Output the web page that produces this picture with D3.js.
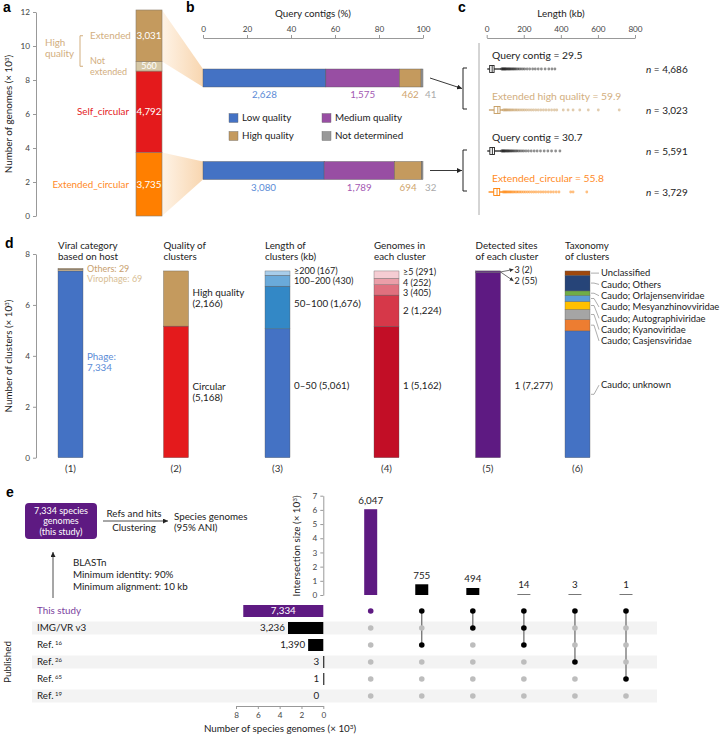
<!DOCTYPE html>
<html>
<head>
<meta charset="utf-8">
<script src="https://cdn.jsdelivr.net/npm/d3@7"></script>
<style>
body { margin: 0; background: #fff; }
svg { font-family: Lato, "Open Sans", sans-serif; }
</style>
</head>
<body>
<svg id="fig" width="723" height="735"></svg>
<script>
// ---- data ----
// a: genome categories, bottom to top
const aCats = ["Extended_circular", "Self_circular", "Not extended", "Extended"];
const aValues = [3735, 4792, 560, 3031];
const aTicks = [0, 2, 4, 6, 8, 10, 12];

// b: quality of query contigs
const bCats = ["Low quality", "Medium quality", "High quality", "Not determined"];
const bRow1 = [2628, 1575, 462, 41];
const bRow2 = [3080, 1789, 694, 32];
const bTicks = [0, 20, 40, 60, 80, 100];

// c: length boxplots (kb)
const cNames = ["Query contig", "Extended high quality", "Query contig", "Extended_circular"];
const cMedian = [29.5, 59.9, 30.7, 55.8];
const cQ1 = [16, 40, 17, 38];
const cQ3 = [40, 72, 42, 70];
const cLo = [3, 12, 3, 10];
const cHi = [78, 88, 78, 86];
const cN = ["4,686", "3,023", "5,591", "3,729"];
const cOut1 = [80, 83, 86, 89, 92, 95, 98, 101, 104, 108, 112, 116, 120, 124, 128, 133, 138, 143, 148, 154, 160, 168, 176, 185, 195, 205, 218, 232, 248, 262, 278, 295, 315, 335, 352, 368];
const cOut2 = [90, 95, 100, 105, 110, 116, 122, 128, 135, 142, 150, 158, 166, 175, 185, 195, 205, 216, 228, 240, 252, 265, 278, 292, 306, 320, 335, 350, 365, 378, 413, 439, 466, 502, 548, 602, 715];
const cOut3 = [80, 83, 86, 89, 92, 95, 98, 102, 106, 110, 114, 118, 122, 127, 132, 137, 143, 149, 156, 163, 171, 180, 190, 200, 212, 225, 240, 256, 272, 290, 310, 330, 350, 372, 395];
const cOut4 = [88, 93, 98, 103, 108, 114, 120, 126, 132, 139, 146, 154, 162, 170, 179, 188, 198, 208, 219, 230, 242, 254, 266, 279, 292, 305, 318, 332, 346, 360, 375, 390, 453, 466, 540];
const cTicks = [0, 200, 400, 600, 800];

// d: cluster composition, bottom to top
const dGroups = ["(1)", "(2)", "(3)", "(4)", "(5)", "(6)"];
const dTitles = [["Viral category", "based on host"], ["Quality of", "clusters"], ["Length of", "clusters (kb)"],
                 ["Genomes in", "each cluster"], ["Detected sites", "of each cluster"], ["Taxonomy", "of clusters"]];
const d1Cats = ["Phage", "Virophage", "Others"];
const d1Values = [7334, 69, 29];
const d2Cats = ["Circular", "High quality"];
const d2Values = [5168, 2166];
const d3Cats = ["0–50", "50–100", "100–200", "≥200"];
const d3Values = [5061, 1676, 430, 167];
const d4Cats = ["1", "2", "3", "4", "≥5"];
const d4Values = [5162, 1224, 405, 252, 291];
const d5Cats = ["1", "2", "3"];
const d5Values = [7277, 55, 2];
const d6Cats = ["Caudo; unknown", "Caudo; Casjensviridae", "Caudo; Kyanoviridae", "Caudo; Autographiviridae",
                "Caudo; Mesyanzhinovviridae", "Caudo; Orlajensenviridae", "Caudo; Others", "Unclassified"];
const d6Values = [4980, 450, 390, 315, 235, 180, 615, 169];
const dTicks = [0, 2, 4, 6, 8];

// e: species genome overlap (UpSet)
const eSets = ["This study", "IMG/VR v3", "Ref.", "Ref.", "Ref.", "Ref."];
const eSetSup = ["", "", "16", "26", "65", "19"];
const eSetSizes = [7334, 3236, 1390, 3, 1, 0];
const eInterSizes = [6047, 755, 494, 14, 3, 1];
const eMembers = [[0], [0, 2], [0, 1], [0, 1, 2], [0, 3], [0, 4]];
const eInterTicks = [0, 1, 2, 3, 4, 5, 6, 7];
const eSetTicks = [8, 6, 4, 2, 0];

// ---- helpers ----
const FS = 9.8;
const svg = d3.select("#fig");
const fmt = d3.format(",");
const defs = svg.append("defs");
function marker(id, color, s) {
  defs.append("marker").attr("id", id).attr("markerUnits", "userSpaceOnUse")
    .attr("markerWidth", s).attr("markerHeight", s).attr("refX", s).attr("refY", s / 2)
    .attr("orient", "auto")
    .append("path").attr("d", `M0,0 L${s},${s / 2} L0,${s} z`).attr("fill", color);
}
marker("arr", "#222", 5);
marker("arrS", "#333", 4);

function txt(x, y, s, o = {}) {
  return svg.append("text").attr("x", x).attr("y", y).attr("dy", "0.35em")
    .attr("font-size", o.size || FS).attr("fill", o.color || "#222")
    .attr("text-anchor", o.anchor || "start").attr("font-weight", o.weight || null)
    .text(s);
}
function lines(x, y, arr, o = {}) {
  const lh = o.lh || 11;
  arr.forEach((s, i) => txt(x, y + (i - (arr.length - 1) / 2) * lh, s, o));
}
function supLabel(x, y, main, sup, o = {}) {
  const fs = o.size || FS;
  const t = svg.append("text").attr("transform", `translate(${x},${y}) rotate(${o.rot || 0})`)
    .attr("text-anchor", o.anchor || "middle").attr("dy", "0.35em")
    .attr("font-size", fs).attr("fill", o.color || "#222");
  t.append("tspan").text(main);
  t.append("tspan").attr("baseline-shift", "super").attr("font-size", fs * 0.65).text(sup);
  if (o.after) t.append("tspan").text(o.after);
  return t;
}
function styleAxis(g) {
  g.selectAll(".domain").attr("stroke", "#999");
  g.selectAll(".tick line").attr("stroke", "#999");
  g.selectAll(".tick text").attr("fill", "#444").attr("font-size", 8.2).attr("font-family", "Lato, sans-serif");
}
function stack(vals) {
  let c = 0;
  return vals.map(v => { const s = { v0: c, v1: c + v }; c += v; return s; });
}
// place labels top-down so they don't collide
function spread(ys, gap) {
  let prev = -Infinity;
  return ys.map(y => { const v = Math.max(y, prev + gap); prev = v; return v; });
}
function letter(x, y, s) { txt(x, y, s, { size: 14, weight: "bold", color: "#000" }).attr("font-family", "Liberation Sans, Arial, sans-serif"); }

// ---- panel a ----
letter(3, 7, "a");
const yA = d3.scaleLinear().domain([0, 12000]).range([216, 12]);
const aColors = ["#FF7F00", "#E41A1C", "#D6C8A6", "#C49A5E"];
const aTextCol = ["#FF8A1F", "#E41A1C", "#D2AE7E", "#D2AE7E"];
const aSeg = stack(aValues);
const aX0 = 136, aX1 = 162;
const aMid = i => yA((aSeg[i].v0 + aSeg[i].v1) / 2);

const grad = defs.append("linearGradient").attr("id", "wedge").attr("x1", "0").attr("x2", "1");
grad.append("stop").attr("offset", "0").attr("stop-color", "#FEF3E6");
grad.append("stop").attr("offset", "1").attr("stop-color", "#F8D6B0");

svg.append("g").attr("transform", "translate(36,0)")
  .call(d3.axisLeft(yA).tickValues(aTicks.map(t => t * 1000)).tickFormat(d => d / 1000).tickSize(3).tickSizeOuter(0))
  .call(styleAxis);
supLabel(9, 114, "Number of genomes (× 10", "3", { rot: -90, after: ")" });

svg.append("g").selectAll("rect").data(aSeg).join("rect")
  .attr("x", aX0).attr("width", aX1 - aX0)
  .attr("y", d => yA(d.v1)).attr("height", d => yA(d.v0) - yA(d.v1))
  .attr("fill", (d, i) => aColors[i]).attr("stroke", "#8a7d6a").attr("stroke-width", 0.6);
aSeg.forEach((d, i) => txt((aX0 + aX1) / 2, aMid(i), fmt(aValues[i]), { anchor: "middle", color: "#fff", size: i === 2 ? 9 : FS }));
txt(129, aMid(0), aCats[0], { anchor: "end", color: aTextCol[0] });
txt(129, aMid(1), aCats[1], { anchor: "end", color: aTextCol[1] });
lines(90, aMid(2), ["Not", "extended"], { color: aTextCol[2], lh: 10.5, size: 9 });
txt(90, aMid(3), aCats[3], { color: aTextCol[3] });
lines(45, 48, ["High", "quality"], { color: aTextCol[3], lh: 11 });
svg.append("path").attr("d", `M83,${aMid(3)} H80 V${aMid(2)} H83`)
  .attr("fill", "none").attr("stroke", "#D2AE7E").attr("stroke-width", 1);

// ---- panel b ----
letter(186, 7, "b");
const xB = d3.scaleLinear().domain([0, 100]).range([203, 423]);
const yB = d3.scalePoint().domain([0, 1]).range([78, 170.5]);
const bColors = ["#4472C4", "#984EA3", "#C49A5E", "#999999"];
const bTextCol = ["#5B8BD6", "#A358B3", "#CFA56E", "#AAAAAA"];
const bh = 18;

const topSeg = aSeg[3], botSeg = aSeg[0];
svg.insert("path", ":first-child").attr("fill", "url(#wedge)")
  .attr("d", `M${aX1},${yA(topSeg.v1)} L${xB(0)},${yB(0) - bh / 2} L${xB(0)},${yB(0) + bh / 2} L${aX1},${yA(topSeg.v0)} Z`);
svg.insert("path", ":first-child").attr("fill", "url(#wedge)")
  .attr("d", `M${aX1},${yA(botSeg.v1)} L${xB(0)},${yB(1) - bh / 2} L${xB(0)},${yB(1) + bh / 2} L${aX1},${yA(botSeg.v0)} Z`);

txt(313, 14, "Query contigs (%)", { anchor: "middle" });
svg.append("g").attr("transform", "translate(0,38)")
  .call(d3.axisTop(xB).tickValues(bTicks).tickSize(3).tickSizeOuter(0).tickPadding(3))
  .call(styleAxis);

[bRow1, bRow2].forEach((row, r) => {
  const tot = d3.sum(row);
  const seg = stack(row.map(v => v / tot * 100));
  svg.append("g").selectAll("rect").data(seg).join("rect")
    .attr("x", d => xB(d.v0)).attr("width", d => xB(d.v1) - xB(d.v0))
    .attr("y", yB(r) - bh / 2).attr("height", bh)
    .attr("fill", (d, i) => bColors[i]).attr("stroke", "#555").attr("stroke-width", 0.4);
  seg.forEach((d, i) => {
    if (i === 3) txt(xB(100) + 2, yB(r) + 17, fmt(row[i]), { color: bTextCol[i] });
    else txt(xB((d.v0 + d.v1) / 2), yB(r) + 17, fmt(row[i]), { anchor: "middle", color: bTextCol[i] });
  });
});
const legPos = [[229, 118], [322, 118], [229, 136], [322, 136]];
bCats.forEach((c, i) => {
  svg.append("rect").attr("x", legPos[i][0]).attr("y", legPos[i][1] - 4.5).attr("width", 9).attr("height", 9)
    .attr("fill", bColors[i]).attr("stroke", "#666").attr("stroke-width", 0.4);
  txt(legPos[i][0] + 13, legPos[i][1], c);
});

// ---- panel c ----
letter(458, 7, "c");
const xC = d3.scaleLinear().domain([0, 800]).range([486.7, 635]);
const yC = d3.scalePoint().domain([0, 1, 2, 3]).range([69, 192]);
const cCol = ["#222", "#C49A5E", "#222", "#FF7F00"];
const cTxt = ["#222", "#D2AE7E", "#222", "#FF8A1F"];
txt(561, 14, "Length (kb)", { anchor: "middle" });
svg.append("g").attr("transform", "translate(0,38)")
  .call(d3.axisTop(xC).tickValues(cTicks).tickSize(3).tickSizeOuter(0).tickPadding(3))
  .call(styleAxis);
svg.append("line").attr("x1", 479).attr("x2", 479).attr("y1", 43).attr("y2", 215).attr("stroke", "#aaa").attr("stroke-width", 1);
const cOuts = [cOut1, cOut2, cOut3, cOut4];
cNames.forEach((nm, i) => {
  const y = yC(i);
  txt(492, y - 14, `${nm} = ${cMedian[i]}`, { color: cTxt[i], size: 10.3 });
  const g = svg.append("g");
  g.selectAll("circle").data(cOuts[i]).join("circle")
    .attr("cx", d => xC(d)).attr("cy", y).attr("r", 1.4)
    .attr("fill", cCol[i]).attr("opacity", 0.5);
  g.append("line").attr("x1", xC(cLo[i])).attr("x2", xC(cHi[i])).attr("y1", y).attr("y2", y)
    .attr("stroke", cCol[i]).attr("stroke-width", 1.3);
  g.append("rect").attr("x", xC(cQ1[i])).attr("width", xC(cQ3[i]) - xC(cQ1[i]))
    .attr("y", y - 3.5).attr("height", 7).attr("fill", "#fff").attr("stroke", cCol[i]).attr("stroke-width", 0.9);
  g.append("line").attr("x1", xC(cMedian[i])).attr("x2", xC(cMedian[i])).attr("y1", y - 3.5).attr("y2", y + 3.5)
    .attr("stroke", cCol[i]).attr("stroke-width", 0.9);
  const t = svg.append("text").attr("x", 646).attr("y", y).attr("dy", "0.35em").attr("font-size", 10).attr("fill", "#222");
  t.append("tspan").attr("font-style", "italic").text("n");
  t.append("tspan").text(" = " + cN[i]);
});
[[0, 1], [2, 3]].forEach((pair, k) => {
  const yt = yC(pair[0]) - 1, yb = yC(pair[1]) - 1;
  svg.append("path").attr("d", `M467,${yt} H463 V${yb} H467`).attr("fill", "none").attr("stroke", "#222").attr("stroke-width", 1);
  svg.append("line").attr("x1", 430).attr("y1", yB(k)).attr("x2", 462).attr("y2", (yt + yb) / 2)
    .attr("stroke", "#222").attr("stroke-width", 0.9).attr("marker-end", "url(#arr)");
});

// ---- panel d ----
letter(5, 243, "d");
const yD = d3.scaleLinear().domain([0, 8000]).range([457.7, 254]);
// columns are not evenly spaced in the original
const xD = d3.scaleOrdinal().domain(dGroups).range([70.5, 176, 277.5, 386.5, 488, 577.5]);
const bw = 25;
svg.append("g").attr("transform", "translate(36,0)")
  .call(d3.axisLeft(yD).tickValues(dTicks.map(t => t * 1000)).tickFormat(d => d / 1000).tickSize(3).tickSizeOuter(0))
  .call(styleAxis);
supLabel(9, 356, "Number of clusters (× 10", "3", { rot: -90, after: ")" });

const dVals = [d1Values, d2Values, d3Values, d4Values, d5Values, d6Values];
const dCols = [
  ["#4472C4", "#D8BE94", "#B8905A"],
  ["#E41A1C", "#C49A5E"],
  ["#4472C4", "#3388C6", "#6AAADA", "#A8CDEA"],
  ["#C20E26", "#D63849", "#E0707E", "#EB9EA8", "#F5CDD3"],
  ["#5E1A82", "#6E3391", "#8A5AA6"],
  ["#4472C4", "#ED7D31", "#A5A5A5", "#FFC000", "#5B9BD5", "#70AD47", "#264478", "#9E480E"]
];
dGroups.forEach((gname, gi) => {
  const x0 = xD(gname) - bw / 2;
  lines(x0, 251, dTitles[gi], { lh: 10.5 });
  const seg = stack(dVals[gi]);
  svg.append("g").selectAll("rect").data(seg).join("rect")
    .attr("x", x0).attr("width", bw)
    .attr("y", d => yD(d.v1)).attr("height", d => yD(d.v0) - yD(d.v1))
    .attr("fill", (d, i) => dCols[gi][i]).attr("stroke", "#555").attr("stroke-width", 0.35);
  txt(xD(gname), 469, gname, { anchor: "middle", color: "#333" });
});
const lx = g => xD(g) + bw / 2 + 4;
const mids = vals => stack(vals).map(s => yD((s.v0 + s.v1) / 2));
const baseY = yD(2850);
const SM = 9;
// (1)
lines(lx("(1)"), yD(3750), ["Phage:", fmt(d1Values[0])], { color: "#5B8BD6", lh: 10.5 });
txt(lx("(1)"), yD(d3.sum(d1Values)) + 0.5, `${d1Cats[2]}: ${d1Values[2]}`, { color: "#C8A06E", size: SM });
txt(lx("(1)"), yD(d3.sum(d1Values)) + 10.5, `${d1Cats[1]}: ${d1Values[1]}`, { color: "#D8BE94", size: SM });
// (2)
mids(d2Values).forEach((y, i) => lines(lx("(2)"), y, [d2Cats[i], `(${fmt(d2Values[i])})`], { lh: 11 }));
// (3) and (4): bottom label low in the bar, upper labels spread top-down
[["(3)", d3Cats, d3Values], ["(4)", d4Cats, d4Values]].forEach(([g, cats, vals]) => {
  txt(lx(g), baseY, `${cats[0]} (${fmt(vals[0])})`);
  const m = mids(vals);
  const idx = d3.range(vals.length - 1, 0, -1);
  const ys = spread(idx.map(i => m[i] - (i === vals.length - 1 ? 2.5 : 0)), 10.2);
  idx.forEach((i, k) => txt(lx(g), ys[k] - (i === 1 && g === "(3)" ? 4 : 0), `${cats[i]} (${fmt(vals[i])})`,
    { size: i === 1 ? FS : SM }));
});
// (5)
txt(lx("(5)") + 10, baseY, `${d5Cats[0]} (${fmt(d5Values[0])})`);
const top5 = yD(d3.sum(d5Values));
[[2, -1.5], [1, 10]].forEach(([i, dy]) => {
  svg.append("line").attr("x1", xD("(5)") + bw / 2).attr("y1", top5 + 1).attr("x2", lx("(5)") + 9).attr("y2", top5 + dy)
    .attr("stroke", "#333").attr("stroke-width", 0.7).attr("marker-end", "url(#arrS)");
  txt(lx("(5)") + 10, top5 + dy, `${d5Cats[i]} (${fmt(d5Values[i])})`, { size: SM });
});
// (6) taxonomy with leader lines
const m6 = mids(d6Values);
const idx6 = d3.range(d6Cats.length - 1, 0, -1);
const y6 = spread(idx6.map(i => m6[i]), 11.3);
const xb6 = xD("(6)") + bw / 2;
idx6.map((i, k) => [i, y6[k]]).concat([[0, baseY]]).forEach(([i, y]) => {
  svg.append("path").attr("d", `M${xb6 + 1},${m6[i]} L${xb6 + 4},${m6[i]} L${xb6 + 9},${y}`)
    .attr("fill", "none").attr("stroke", "#777").attr("stroke-width", 0.6);
  txt(xb6 + 11, y, d6Cats[i], { size: 9.4 });
});

// ---- panel e ----
letter(6, 492, "e");
svg.append("rect").attr("x", 25).attr("y", 503).attr("width", 72).attr("height", 36).attr("rx", 4).attr("fill", "#5E1A82");
lines(61, 521, ["7,334 species", "genomes", "(this study)"], { anchor: "middle", color: "#fff", lh: 10.6, size: 9 });
svg.append("line").attr("x1", 103).attr("x2", 168).attr("y1", 521).attr("y2", 521)
  .attr("stroke", "#222").attr("stroke-width", 0.8).attr("marker-end", "url(#arr)");
txt(134, 514, "Refs and hits", { anchor: "middle" });
txt(134, 528, "Clustering", { anchor: "middle" });
lines(174, 522, ["Species genomes", "(95% ANI)"], { lh: 11 });
svg.append("line").attr("x1", 53).attr("x2", 53).attr("y1", 598).attr("y2", 552)
  .attr("stroke", "#222").attr("stroke-width", 0.8).attr("marker-end", "url(#arr)");
lines(73, 575, ["BLASTn", "Minimum identity: 90%", "Minimum alignment: 10 kb"], { lh: 12 });

const yR = d3.scalePoint().domain(d3.range(eSets.length)).range([611, 696]);
const xI = d3.scalePoint().domain(d3.range(eInterSizes.length)).range([370.7, 626]);
const yI = d3.scaleLinear().domain([0, 7000]).range([595, 495.7]);
const xS = d3.scaleLinear().domain([0, 8000]).range([323.3, 236]);

svg.append("g").selectAll("rect").data(d3.range(eSets.length).filter(i => i % 2 === 1)).join("rect")
  .attr("x", 32).attr("width", 625).attr("y", d => yR(d) - 6.5).attr("height", 13).attr("fill", "#F3F3F3");

svg.append("g").attr("transform", "translate(323.3,0)")
  .call(d3.axisLeft(yI).tickValues(eInterTicks.map(t => t * 1000)).tickFormat(d => d / 1000).tickSize(3).tickSizeOuter(0))
  .call(styleAxis);
supLabel(297, 546, "Intersection size (× 10", "3", { rot: -90, after: ")" });
eInterSizes.forEach((v, i) => {
  const h = Math.max(yI(0) - yI(v), 1);
  svg.append("rect").attr("x", xI(i) - 6.5).attr("width", 13).attr("y", yI(0) - h).attr("height", h)
    .attr("fill", i === 0 ? "#5E1A82" : (v < 100 ? "#777" : "#000"));
  txt(xI(i), yI(0) - h - 9, fmt(v), { anchor: "middle" });
});

svg.append("g").attr("transform", "translate(0,706)")
  .call(d3.axisBottom(xS).tickValues(eSetTicks.map(t => t * 1000)).tickFormat(d => d / 1000).tickSize(3).tickSizeOuter(0))
  .call(styleAxis);
supLabel(280, 729, "Number of species genomes (× 10", "3", { after: ")" });
eSets.forEach((s, i) => {
  const y = yR(i);
  const w = xS(0) - xS(eSetSizes[i]);
  svg.append("rect").attr("x", xS(eSetSizes[i])).attr("width", Math.max(w, eSetSizes[i] > 0 ? 1 : 0))
    .attr("y", y - 6).attr("height", 12).attr("fill", i === 0 ? "#5E1A82" : "#000");
  if (i === 0) txt(xS(eSetSizes[i] / 2), y, fmt(eSetSizes[i]), { anchor: "middle", color: "#fff" });
  else txt(Math.min(xS(eSetSizes[i]), xS(0) - 1) - 3, y, fmt(eSetSizes[i]), { anchor: "end" });
  const t = svg.append("text").attr("x", 37).attr("y", y).attr("dy", "0.35em").attr("font-size", FS)
    .attr("fill", i === 0 ? "#7B3F9E" : "#222");
  t.append("tspan").text(s);
  if (eSetSup[i]) t.append("tspan").attr("baseline-shift", "super").attr("font-size", 6).text(" " + eSetSup[i]);
});
svg.append("text").attr("transform", "translate(8,662) rotate(-90)").attr("text-anchor", "middle")
  .attr("dy", "0.35em").attr("font-size", FS).attr("fill", "#222").text("Published");

eMembers.forEach((m, i) => {
  const ys = m.map(r => yR(r));
  if (m.length > 1) svg.append("line").attr("x1", xI(i)).attr("x2", xI(i))
    .attr("y1", d3.min(ys)).attr("y2", d3.max(ys)).attr("stroke", "#666").attr("stroke-width", 1.2);
  eSets.forEach((s, r) => {
    const on = m.includes(r);
    svg.append("circle").attr("cx", xI(i)).attr("cy", yR(r)).attr("r", 2.8)
      .attr("fill", on ? (i === 0 ? "#5E1A82" : "#000") : "#BDBDBD");
  });
});
</script>
</body>
</html>
